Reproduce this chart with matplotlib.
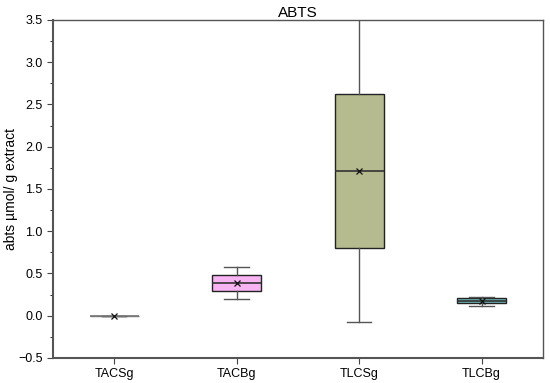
import matplotlib
matplotlib.use("Agg")
import matplotlib.pyplot as plt
from matplotlib.ticker import MultipleLocator

plt.rcParams["font.family"] = ["Liberation Sans", "DejaVu Sans"]

groups = ["TACSg", "TACBg", "TLCSg", "TLCBg"]
whis_lo = [0.0, 0.198, -0.07, 0.119]
q1 = [0.0, 0.293, 0.805, 0.147]
median = [0.0, 0.390, 1.716, 0.178]
q3 = [0.0, 0.485, 2.63, 0.206]
whis_hi = [0.0, 0.58, 3.6, 0.225]
means = [0.0, 0.39, 1.716, 0.175]
colors = ["#ffffff", "#f7b3f2", "#b5bb8e", "#72bcbc"]

stats = []
for i, g in enumerate(groups):
    stats.append({"label": g, "whislo": whis_lo[i], "q1": q1[i], "med": median[i],
                  "q3": q3[i], "whishi": whis_hi[i], "mean": means[i], "fliers": []})

fig = plt.figure(figsize=(5.5, 3.83), dpi=100)
ax = fig.add_axes([0.0964, 0.0653, 0.8906, 0.8825])

bp = ax.bxp(stats, positions=range(1, 5), widths=0.4, patch_artist=True,
            showmeans=True, showfliers=False,
            boxprops=dict(edgecolor="#222222", linewidth=1.0),
            medianprops=dict(color="#333333", linewidth=1.2),
            whiskerprops=dict(color="#555555", linewidth=1.0),
            capprops=dict(color="#555555", linewidth=1.0),
            capwidths=0.2,
            meanprops=dict(marker="x", markeredgecolor="#111111", markersize=4.5,
                           markeredgewidth=0.9))
for patch, c in zip(bp["boxes"], colors):
    patch.set_facecolor(c)
bp["boxes"][0].set_edgecolor("#777777")
bp["medians"][0].set_color("#777777")

ax.set_xlim(0.5, 4.5)
ax.set_ylim(-0.5, 3.5)
ax.yaxis.set_major_locator(MultipleLocator(0.5))
ax.yaxis.set_minor_locator(MultipleLocator(0.25))
ax.tick_params(axis="y", direction="out", length=4, labelsize=9, color="#444444")
ax.tick_params(axis="y", which="minor", length=2)
ax.tick_params(axis="x", direction="out", length=4, labelsize=9, color="#444444")
for name, sp in ax.spines.items():
    sp.set_color("#555555")
    sp.set_linewidth(1.0)
ax.spines["left"].set_linewidth(1.5)
ax.spines["bottom"].set_linewidth(1.5)

ax.set_ylabel("abts µmol/ g extract", fontsize=10)
ax.yaxis.set_label_coords(-0.072, 0.5)
ax.set_title("ABTS", fontsize=11, pad=2)

fig.savefig("out.png", dpi=100)
